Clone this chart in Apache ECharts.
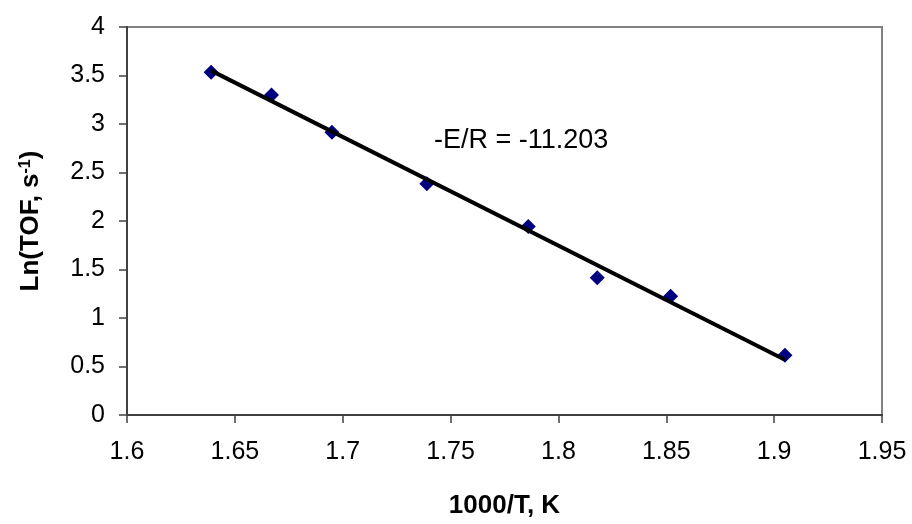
<!DOCTYPE html>
<html>
<head>
<meta charset="utf-8">
<script src="https://cdn.jsdelivr.net/npm/echarts@6/dist/echarts.min.js"></script>
<style>
html,body{margin:0;padding:0;background:#fff;}
#chart{width:912px;height:524px;}
</style>
</head>
<body>
<div id="chart"></div>
<script>
// Data
var invT = [1.639, 1.667, 1.695, 1.739, 1.786, 1.818, 1.852, 1.905];
var lnTOF = [3.533, 3.299, 2.916, 2.384, 1.944, 1.414, 1.224, 0.617];
// Linear trend line endpoints (as drawn in reference)
var fitX = [1.639, 1.905];
var fitY = [3.55, 0.57];
var annotationText = '-E/R = -11.203';
var xTitle = '1000/T, K';

var pts = invT.map(function (x, i) { return [x, lnTOF[i]]; });
var fit = fitX.map(function (x, i) { return [x, fitY[i]]; });

var chart = echarts.init(document.getElementById('chart'), null, {renderer: 'canvas'});
var font = '"Liberation Sans", Arial, sans-serif';
chart.setOption({
  animation: false,
  backgroundColor: '#ffffff',
  grid: {
    left: 127, right: 30, top: 27, bottom: 108,
    show: true, borderColor: '#808080', borderWidth: 2, backgroundColor: 'transparent'
  },
  xAxis: {
    type: 'value', min: 1.6, max: 1.95, interval: 0.05,
    name: xTitle, nameLocation: 'middle', nameGap: 78,
    nameTextStyle: {fontFamily: font, fontSize: 26, fontWeight: 'bold', color: '#000'},
    axisLine: {show: true, onZero: false, lineStyle: {color: '#404040', width: 2}},
    axisTick: {show: true, inside: false, length: 8, lineStyle: {color: '#404040', width: 1.5}},
    axisLabel: {fontFamily: font, fontSize: 25, color: '#000', margin: 25},
    splitLine: {show: false}
  },
  yAxis: {
    type: 'value', min: 0, max: 4, interval: 0.5,
    name: '{a|Ln(TOF, s}{sup|-1}{a|)}', nameLocation: 'middle', nameGap: 83, nameRotate: 90,
    nameTextStyle: {
      fontFamily: font, fontSize: 26, fontWeight: 'bold', color: '#000',
      rich: {
        a: {fontFamily: font, fontSize: 26, fontWeight: 'bold', color: '#000'},
        sup: {fontFamily: font, fontSize: 16, fontWeight: 'bold', color: '#000', verticalAlign: 'top'}
      }
    },
    axisLine: {show: true, onZero: false, lineStyle: {color: '#404040', width: 2}},
    axisTick: {show: true, inside: false, length: 8, lineStyle: {color: '#404040', width: 1.5}},
    axisLabel: {fontFamily: font, fontSize: 25, color: '#000', margin: 22},
    splitLine: {show: false}
  },
  series: [
    {
      type: 'scatter', data: pts, symbol: 'diamond', symbolSize: 15,
      itemStyle: {color: '#000080', opacity: 1}, z: 2
    },
    {
      type: 'line', data: fit, showSymbol: false, symbol: 'none',
      lineStyle: {color: '#000000', width: 4}, z: 3
    }
  ],
  graphic: [
    {
      type: 'text', left: 434, top: 127, z: 10,
      style: {text: annotationText, fontFamily: font, fontSize: 27, fill: '#000', verticalAlign: 'middle'}
    }
  ]
});
</script>
</body>
</html>
